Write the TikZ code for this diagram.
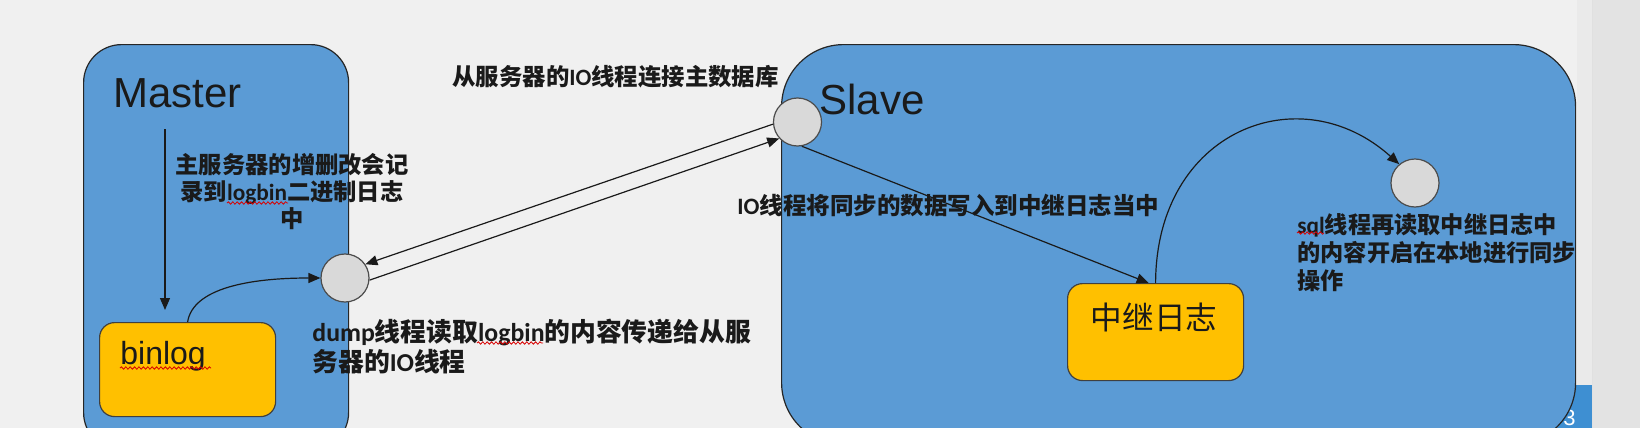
\documentclass[tikz,border=0pt]{standalone}
\usepackage{fontspec}
\setmainfont{Liberation Sans}
\newfontfamily\cjk{Noto Sans CJK SC}
\newfontfamily\latf{Carlito}
\newcommand\lw[1]{{\latf #1}}
\usetikzlibrary{arrows.meta,decorations.pathmorphing}
\definecolor{bg}{HTML}{F0F0F0}
\definecolor{boxblue}{HTML}{5B9BD5}
\definecolor{gold}{HTML}{FFC000}
\definecolor{circ}{HTML}{D9D9D9}
\definecolor{stripblue}{HTML}{3E8FD2}
\definecolor{band}{HTML}{E3E3E3}
\definecolor{bandb}{HTML}{EAEAEA}
\definecolor{ink}{HTML}{1A1A1A}
\begin{document}
\begin{tikzpicture}[x=0.5pt,y=-0.5pt,
  server/.style={draw=black!85, line width=0.6pt, fill=boxblue, inner sep=0pt, anchor=north west},
  logbox/.style={draw=black!75, line width=0.6pt, fill=gold, rounded corners=7.5pt, inner sep=0pt, anchor=north west},
  thread/.style={circle, draw=black!70, line width=0.6pt, fill=circ, minimum size=24pt, inner sep=0pt},
  title/.style={inner sep=0pt, anchor=base west, text=ink, font=\fontsize{21pt}{21pt}\selectfont},
  lbl/.style={inner sep=0pt, text=ink},
  conn/.style={draw=ink, line width=0.6pt, -{Triangle[length=6pt,width=5pt]}},
  squig/.style={draw=red!85!black, line width=0.4pt, decorate, decoration={snake, amplitude=0.6pt, segment length=2.2pt}}
]
\useasboundingbox (0,0) rectangle (1640,428);
\clip (0,0) rectangle (1640,428);
\fill[bg] (0,0) rectangle (1640,428);
\fill[bandb] (1577,0) rectangle (1592,428);
\fill[band] (1592,0) rectangle (1640,428);
\draw[black!12, line width=0.5pt] (1592,0) -- (1592,428);
\fill[stripblue] (1530,385) rectangle (1592,428);
\node[inner sep=0pt, anchor=base west, text=white, font=\fontsize{11pt}{11pt}\selectfont] (slidenum) at (1563,425) {3};

% servers
\node[server, rounded corners=19pt, minimum width=132.5pt, minimum height=203pt] (master) at (83,44) {};
\node[server, rounded corners=31pt, minimum width=397pt, minimum height=200pt] (slave) at (781,44) {};
\node[title] (mastert) at (113,107) {Master};
\node[title] (slavet) at (819,114) {Slave};

% logs
\node[logbox, minimum width=88pt, minimum height=47pt] (binlog) at (99,322) {};
\node[title, font=\fontsize{16pt}{16pt}\selectfont] (binlogt) at (120,364) {binlog};
\node[logbox, minimum width=88pt, minimum height=48.5pt] (relay) at (1067,283) {};
\node[lbl, font=\cjk\fontsize{15.8pt}{16pt}\selectfont] (relayt) at (1154,317) {中继日志};

% threads
\node[thread] (dump) at (345,278) {};
\node[thread] (io) at (797.5,122) {};
\node[thread] (sql) at (1415,183) {};

% connectors
\coordinate (ma) at (165,129);
\coordinate (mb) at (165,310);
\draw[conn] (ma) -- (mb);
\draw[conn] (binlog.north) .. controls (193,288) and (250,278) .. (dump.west);
\draw[conn] (io.185) -- (dump.34);
\draw[conn] (dump.355) -- (io.222);
\draw[conn] (io.280) -- ([xshift=-3.5pt]relay.north);
\draw[conn] (relay.north) .. controls (1156,130) and (1300,75) .. (sql.130);

% labels
\node[lbl, anchor=west, font=\cjk\bfseries\fontsize{11.7pt}{14pt}\selectfont] (lsrv) at (452,77) {从服务器的\lw{IO}线程连接主数据库};
\node[lbl, align=center, font=\cjk\bfseries\fontsize{11.65pt}{13.5pt}\selectfont] (lmaster) at (292,192) {主服务器的增删改会记\\录到\lw{logbin}二进制日志\\中};
\node[lbl, anchor=west, align=left, font=\cjk\bfseries\fontsize{12.9pt}{15pt}\selectfont] (ldump) at (312,347) {\lw{dump}线程读取\lw{logbin}的内容传递给从服\\务器的\lw{IO}线程};
\node[lbl, anchor=west, font=\cjk\bfseries\fontsize{11.75pt}{14pt}\selectfont] (lio) at (737,205) {\lw{IO}线程将同步的数据写入到中继日志当中};
\node[lbl, anchor=west, align=left, font=\cjk\bfseries\fontsize{11.6pt}{14pt}\selectfont] (lsql) at (1297,253) {\lw{sql}线程再读取中继日志中\\的内容开启在本地进行同步\\操作};

% spell-check marks
\draw[squig] (227,203) -- (288,203);
\draw[squig] (120,368) -- (211,368);
\draw[squig] (477,343) -- (543,343);
\draw[squig] (1297,233) -- (1324,233);
\end{tikzpicture}
\end{document}
